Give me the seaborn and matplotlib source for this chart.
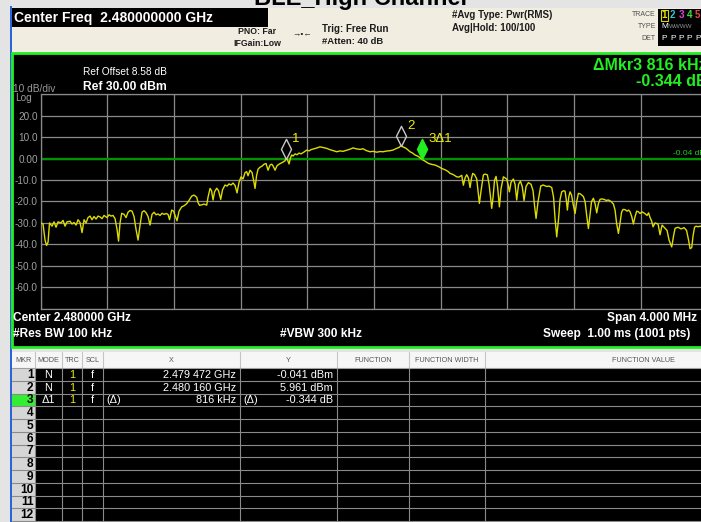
import matplotlib
matplotlib.use("Agg")
import matplotlib.pyplot as plt
from matplotlib.lines import Line2D
from matplotlib.patches import Rectangle
from matplotlib.path import Path
import numpy as np
import pandas as pd
import seaborn as sns

W, H = 701, 522

# instrument settings
start_ghz = 2.478
stop_ghz = 2.482
ref_dbm = 30.0
bottom_dbm = -70.0
display_line_dbm = -0.04

# trace: offset from start (kHz) and level (dBm)
trace_khz = [
    0, 14, 26, 35, 44, 53, 68, 80, 92, 104,
    122, 134, 146, 158, 176, 188, 200, 212, 224, 236,
    248, 260, 272, 284, 296, 308, 320, 332, 344, 356,
    368, 380, 398, 410, 422, 434, 446, 458, 467, 476,
    486, 500, 512, 524, 536, 548, 560, 572, 584, 596,
    608, 620, 632, 644, 656, 668, 680, 692, 704, 716,
    728, 740, 752, 764, 773, 786, 797, 806, 818, 830,
    846, 860, 876, 890, 906, 920, 936, 944, 953, 968,
    980, 996, 1004, 1016, 1025, 1034, 1043, 1056, 1067, 1080,
    1091, 1106, 1118, 1130, 1142, 1154, 1166, 1178, 1190, 1202,
    1214, 1226, 1236, 1244, 1256, 1268, 1277, 1286, 1295, 1304,
    1316, 1328, 1340, 1352, 1364, 1376, 1386, 1394, 1406, 1418,
    1430, 1442, 1454, 1466, 1472, 1481, 1490, 1499, 1506, 1514,
    1526, 1538, 1550, 1562, 1574, 1586, 1596, 1610, 1622, 1640,
    1658, 1675, 1693, 1716, 1734, 1752, 1776, 1796, 1814, 1836,
    1856, 1874, 1892, 1916, 1934, 1952, 1976, 1994, 2016, 2036,
    2054, 2072, 2096, 2114, 2136, 2150, 2160, 2180, 2192, 2204,
    2216, 2231, 2246, 2266, 2288, 2306, 2326, 2342, 2366, 2384,
    2406, 2426, 2444, 2456, 2474, 2496, 2510, 2526, 2536, 2546,
    2556, 2566, 2576, 2585, 2592, 2603, 2616, 2624, 2632, 2642,
    2656, 2666, 2680, 2690, 2699, 2706, 2714, 2723, 2732, 2741,
    2752, 2762, 2776, 2786, 2796, 2804, 2812, 2822, 2836, 2846,
    2856, 2867, 2878, 2889, 2900, 2912, 2926, 2942, 2954, 2963,
    2972, 2984, 3000, 3014, 3036, 3050, 3066, 3077, 3086, 3096,
    3107, 3116, 3126, 3137, 3146, 3153, 3160, 3168, 3176, 3185,
    3194, 3206, 3216, 3226, 3239, 3256, 3266, 3275, 3286, 3296,
    3305, 3316, 3326, 3336, 3346, 3356, 3366, 3380, 3392, 3406,
    3422, 3436, 3446, 3455, 3466, 3476, 3485, 3494, 3506, 3518,
    3527, 3536, 3546, 3556, 3566, 3576, 3586, 3596, 3608, 3626,
    3638, 3647, 3656, 3665, 3674, 3686, 3704, 3716, 3728, 3746,
    3758, 3770, 3786, 3797, 3806, 3824, 3842, 3860, 3875, 3887,
    3896, 3906, 3914, 3923, 3932, 3944, 3956, 3974, 4000,
]
trace_dbm = [
    -30.0, -30.5, -38.0, -40.5, -39.0, -30.0, -31.5, -29.5, -32.0, -29.5,
    -30.0, -28.8, -31.5, -29.5, -29.2, -30.5, -29.8, -31.0, -28.5, -29.8,
    -34.5, -28.5, -30.0, -27.5, -26.8, -28.5, -27.0, -28.2, -26.8, -27.2,
    -28.0, -26.5, -27.5, -26.2, -26.8, -26.5, -28.0, -33.0, -38.5, -30.0,
    -25.5, -26.0, -27.5, -25.0, -24.2, -24.5, -27.0, -33.0, -38.0, -31.0,
    -25.0, -24.3, -25.2, -27.0, -31.0, -26.0, -25.0, -26.2, -25.8, -26.5,
    -25.5, -26.0, -25.6, -26.0, -28.5, -24.0, -24.5, -26.5, -29.0, -24.5,
    -22.5, -22.0, -21.0, -19.5, -17.5, -17.0, -18.0, -20.5, -21.8, -21.5,
    -21.2, -21.7, -18.0, -13.9, -15.0, -19.3, -15.5, -13.8, -15.0, -19.0,
    -14.5, -12.3, -12.8, -11.8, -12.3, -11.4, -12.5, -16.0, -11.0, -8.5,
    -9.5, -6.5, -6.1, -8.0, -5.4, -6.5, -10.0, -13.9, -8.0, -4.9,
    -4.0, -3.5, -2.6, -2.3, -5.4, -3.0, -2.6, -3.4, -5.4, -3.3,
    -2.6, -2.1, -1.6, -1.0, -0.04, -0.6, -2.5, 0.5, 1.7, 1.2,
    2.2, 1.8, 2.6, 2.2, 2.8, 3.4, 4.0, 3.6, 4.2, 4.6,
    5.0, 5.5, 5.2, 4.8, 4.2, 3.8, 3.2, 3.6, 3.4, 3.9,
    4.4, 5.0, 4.6, 4.3, 4.6, 3.8, 3.2, 3.4, 3.0, 3.3,
    3.2, 3.5, 3.7, 4.0, 4.8, 5.2, 5.96, 5.2, 4.8, 4.0,
    3.2, 2.6, 1.7, 1.0, -0.39, -1.2, -2.2, -2.6, -3.0, -3.6,
    -4.6, -5.2, -6.0, -6.9, -7.4, -8.5, -8.6, -7.8, -12.4, -9.0,
    -7.5, -9.0, -13.5, -9.0, -6.9, -7.5, -9.5, -15.0, -20.9, -15.0,
    -7.6, -7.2, -7.6, -12.0, -18.0, -23.2, -18.0, -10.0, -8.3, -13.0,
    -22.5, -14.0, -8.5, -9.0, -9.5, -12.0, -15.5, -11.0, -9.5, -12.0,
    -19.3, -12.0, -10.5, -13.0, -19.5, -13.0, -11.2, -12.0, -15.0, -22.0,
    -27.9, -20.0, -12.8, -12.3, -13.0, -12.8, -13.5, -18.0, -28.0, -36.5,
    -28.0, -19.0, -15.5, -15.0, -15.2, -19.0, -24.0, -18.0, -15.5, -17.0,
    -21.0, -25.6, -20.0, -16.2, -16.5, -17.7, -20.0, -26.0, -32.6, -26.0,
    -20.0, -18.5, -21.0, -25.3, -21.0, -19.0, -18.8, -19.0, -19.5, -19.3,
    -20.0, -21.2, -24.0, -30.0, -34.9, -30.0, -25.0, -23.7, -23.8, -24.5,
    -24.0, -24.8, -27.0, -30.5, -27.0, -24.5, -24.8, -25.6, -24.8, -25.7,
    -26.5, -25.3, -27.5, -29.0, -31.8, -30.0, -30.5, -35.5, -31.0, -32.5,
    -33.5, -38.0, -41.2, -36.0, -32.5, -32.0, -32.8, -32.2, -33.5, -38.0,
    -42.0, -41.5, -36.0, -32.0, -31.5, -31.8, -31.5, -32.0, -32.0,
]

# markers
marker_labels = ["1", "2", "3\u03941"]
marker_ghz = [2.479472, 2.480160, 2.480288]
marker_dbm = [-0.041, 5.961, -0.385]

y_ticks = [30, 20, 10, 0, -10, -20, -30, -40, -50, -60, -70]
y_tick_labels = ["", "20.0", "10.0", "0.00", "-10.0", "-20.0", "-30.0",
                 "-40.0", "-50.0", "-60.0", ""]

# marker table
table_header = ["MKR", "MODE", "TRC", "SCL", "X", "Y", "FUNCTION",
                "FUNCTION WIDTH", "FUNCTION VALUE"]
mkr_mode = ["N", "N", "\u03941"]
mkr_trc = ["1", "1", "1"]
mkr_scl = ["f", "f", "f"]
mkr_x = ["2.479 472 GHz", "2.480 160 GHz", "816 kHz"]
mkr_y = ["-0.041 dBm", "5.961 dBm", "-0.344 dB"]
n_rows = 12

sns.set_theme(style="dark")
plt.rcParams["font.family"] = ["Liberation Sans", "DejaVu Sans"]

fig = plt.figure(figsize=(W / 100, H / 100), dpi=100, facecolor="#e4e4e4")


def rect(x, y, w, h, fc, ec="none", lw=0, z=-5):
    fig.patches.append(Rectangle((x / W, 1 - (y + h) / H), w / W, h / H,
                                 transform=fig.transFigure, fc=fc, ec=ec,
                                 lw=lw, zorder=z))


def line(x0, y0, x1, y1, color, lw=0.8, z=-4):
    fig.add_artist(Line2D([x0 / W, x1 / W], [1 - y0 / H, 1 - y1 / H],
                          transform=fig.transFigure, color=color, lw=lw,
                          zorder=z))


def put(x, y, s, **kw):
    kw.setdefault("va", "center")
    kw.setdefault("ha", "left")
    fig.text(x / W, 1 - y / H, s, **kw)


# window title, mostly cut off at the top
put(360, 4.5, "BLE_High Channel", ha="center", va="baseline", fontsize=17,
    weight="bold", color="black")

# left border of the instrument window
rect(9.5, 6, 2.5, H - 6, "#2a64d8", z=-6)

# header panel
rect(12, 8, W - 12, 44, "#f1ede1")
rect(12, 8, 256, 19, "black", z=-4)
put(14, 18, "Center Freq  2.480000000 GHz", color="white", fontsize=10,
    weight="bold")
put(238, 32, "PNO: Far", color="#1c1c1c", fontsize=6.3, weight="bold")
put(233, 43, "IFGain:Low", color="#1c1c1c", fontsize=6.3, weight="bold")
put(292, 34, "\u2192\u2022\u2190", color="#1c1c1c", fontsize=6)
put(322, 29, "Trig: Free Run", color="#1c1c1c", fontsize=7, weight="bold")
put(322, 42, "#Atten: 40 dB", color="#1c1c1c", fontsize=6.8, weight="bold")
put(452, 15, "#Avg Type: Pwr(RMS)", color="#1c1c1c", fontsize=7,
    weight="bold")
put(452, 28, "Avg|Hold: 100/100", color="#1c1c1c", fontsize=7,
    weight="bold")
put(656, 15, "TRACE", color="#505050", fontsize=5, ha="right")
put(656, 27, "TYPE", color="#505050", fontsize=5, ha="right")
put(656, 39, "DET", color="#505050", fontsize=5, ha="right")
rect(658, 9, W - 658, 37, "black", z=-4)
rect(661, 10, 7, 11, "none", ec="#d8d800", lw=0.8, z=-3)
trace_colors = ["#e8e800", "#30c0e0", "#e040e0", "#40e040", "#f04848"]
for i, c in enumerate(trace_colors):
    put(664.5 + i * 8.3, 15.5, str(i + 1), color=c, fontsize=7,
        weight="bold", ha="center")
    put(664.5 + i * 8.3, 39, "P", color="white", fontsize=6, ha="center")
put(664.5, 27, "M", color="white", fontsize=6, ha="center")
put(669, 27, "WWWW", color="#909090", fontsize=4.5)

# measurement screen
rect(12, 53, W - 12 + 5, 294, "black", ec="#22ee22", lw=2)
put(83, 72, "Ref Offset 8.58 dB", color="white", fontsize=7.3)
put(83, 87, "Ref 30.00 dBm", color="white", fontsize=8.7, weight="bold")
put(13, 89, "10 dB/div", color="#9a9a9a", fontsize=7.3)
put(15, 98, "Log", color="#9a9a9a", fontsize=7.3)
put(593, 66, "\u0394Mkr3 816 kHz", color="#22ee22", fontsize=11.5,
    weight="bold")
put(636, 82, "-0.344 dB", color="#22ee22", fontsize=11.5, weight="bold")
put(13, 318, "Center 2.480000 GHz", color="white", fontsize=8.6,
    weight="bold")
put(607, 318, "Span 4.000 MHz", color="white", fontsize=8.6, weight="bold")
put(13, 334, "#Res BW 100 kHz", color="white", fontsize=8.6, weight="bold")
put(280, 334, "#VBW 300 kHz", color="white", fontsize=8.6, weight="bold")
put(543, 334, "Sweep  1.00 ms (1001 pts)", color="white", fontsize=8.6,
    weight="bold")

# spectrum plot
ax_left, ax_top, ax_w, ax_h = 40.7, 94.3, 666.7, 214.4
ax = fig.add_axes([ax_left / W, 1 - (ax_top + ax_h) / H, ax_w / W, ax_h / H])
ax.set_facecolor("black")

trace = pd.DataFrame({
    "freq": [start_ghz + k / 1e6 for k in trace_khz],
    "level": trace_dbm,
})
sns.lineplot(data=trace, x="freq", y="level", ax=ax, color="#dcdc00",
             lw=1.0, estimator=None, sort=False, zorder=3)
ax.axhline(display_line_dbm, color="#009600", lw=1.6, zorder=2)

ax.set_xlim(start_ghz, stop_ghz)
ax.set_ylim(bottom_dbm, ref_dbm)
ax.set_xticks(np.linspace(start_ghz, stop_ghz, 11))
ax.set_xticklabels([])
ax.set_yticks(y_ticks)
ax.set_yticklabels(y_tick_labels)
ax.tick_params(length=0, pad=2, labelsize=7.2, labelcolor="#a0a0a0")
ax.grid(True, color="#8a8a8a", lw=0.9)
for s in ax.spines.values():
    s.set_color("#8a8a8a")
    s.set_linewidth(0.9)
ax.set_xlabel("")
ax.set_ylabel("")

ax.annotate("-0.04 dBm", (stop_ghz, display_line_dbm), xytext=(-25, 1.5),
            textcoords="offset points", color="#22cc22", fontsize=6,
            ha="left", va="bottom", annotation_clip=False)

diamond = Path([(0, 0), (0.5, 1), (0, 2), (-0.5, 1), (0, 0)],
               [Path.MOVETO, Path.LINETO, Path.LINETO, Path.LINETO,
                Path.CLOSEPOLY])
for i, (lab, f, lv) in enumerate(zip(marker_labels, marker_ghz, marker_dbm)):
    active = i == 2
    ax.plot([f], [lv], marker=diamond, ms=29, ls="none",
            mfc="#22ee22" if active else "none",
            mec="#22ee22" if active else "#c8c8c8", mew=1, zorder=5)
    ax.annotate(lab, (f, lv), xytext=(4.5, 14.5), textcoords="offset points",
                color="#eeee00", fontsize=9.5, ha="left", va="center",
                zorder=6)

# marker table
col_edges = [12, 35, 62, 82, 103, 240, 337, 409, 485, W + 5]
tab_top, head_h, row_h = 352, 16, 12.75
rows_top = tab_top + head_h
rect(12, tab_top, W - 12, head_h, "#f6f6f6")
rect(35, rows_top, W - 35, H - rows_top, "black")
rect(12, rows_top, 23, H - rows_top, "#d6d6d6")
rect(12, rows_top + 2 * row_h, 23, row_h, "#33ee33", z=-4.5)
for i, name in enumerate(table_header):
    cx = (col_edges[i] + col_edges[i + 1]) / 2
    if i == len(table_header) - 1:
        cx = (col_edges[i] + 701 + 100) / 2
    put(cx, tab_top + 8, name, color="#555555", fontsize=5.2, ha="center")
for xe in col_edges[1:-1]:
    line(xe, tab_top, xe, rows_top, "#c4c4c4")
    line(xe, rows_top, xe, H, "#8a8a8a")
for k in range(n_rows + 1):
    yk = rows_top + k * row_h
    line(12, yk, W, yk, "#8a8a8a" if k else "#a0a0a0")
for r in range(n_rows):
    yc = rows_top + (r + 0.5) * row_h + 0.5
    put(33.5, yc, str(r + 1), color="black", fontsize=8.6, weight="bold",
        ha="right")
for r in range(len(mkr_mode)):
    yc = rows_top + (r + 0.5) * row_h + 0.5
    put(48.5, yc, mkr_mode[r], color="white", fontsize=7.8, ha="center")
    put(72, yc, mkr_trc[r], color="#eeee00", fontsize=7.8, ha="center")
    put(92.5, yc, mkr_scl[r], color="white", fontsize=7.8, ha="center")
    put(236, yc, mkr_x[r], color="white", fontsize=7.8, ha="right")
    put(333, yc, mkr_y[r], color="white", fontsize=7.8, ha="right")
    if mkr_mode[r].startswith("\u0394"):
        put(106, yc, "(\u0394)", color="white", fontsize=7.8)
        put(243, yc, "(\u0394)", color="white", fontsize=7.8)

fig.savefig("out.png", dpi=100, facecolor=fig.get_facecolor())
